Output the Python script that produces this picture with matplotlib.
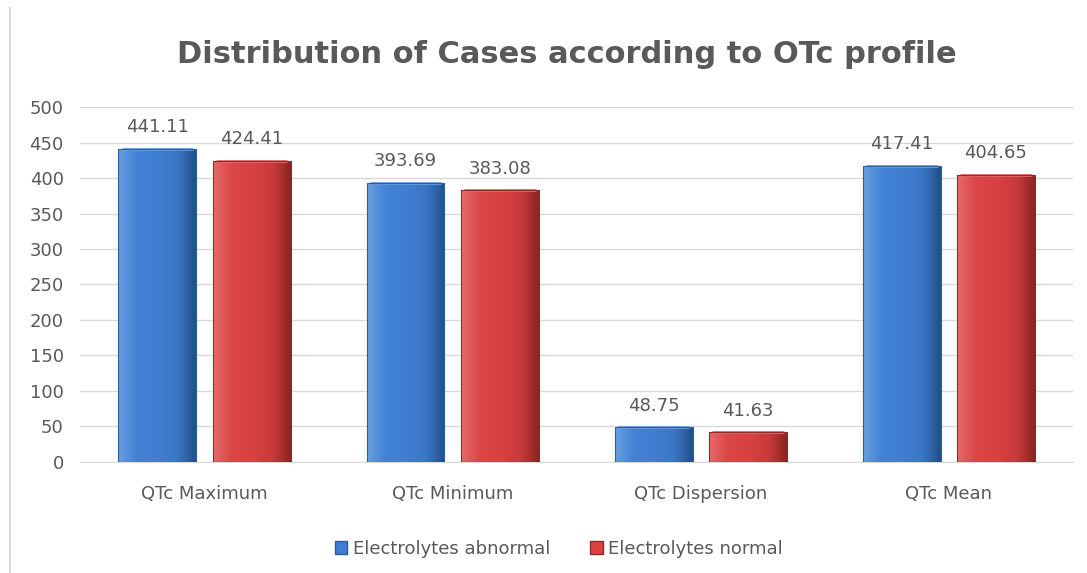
#!/usr/bin/env python3

import matplotlib.pyplot as plt
import numpy as np
from matplotlib.colors import LinearSegmentedColormap
from matplotlib.lines import Line2D

categories = ["QTc Maximum", "QTc Minimum", "QTc Dispersion", "QTc Mean"]
abnormal = [441.11, 393.69, 48.75, 417.41]
normal = [424.41, 383.08, 41.63, 404.65]
series_names = ["Electrolytes abnormal", "Electrolytes normal"]

BLUE = "#3F7ED0"
RED = "#D94242"
TEXT = "#595959"

# bevel-ish horizontal shading: light left edge, flat middle, dark right edge
SHADES = {
    BLUE: ["#6A9FE0", "#4283D6", "#3F7ED0", "#3A76C4", "#244F8A"],
    RED: ["#E66A6A", "#DB4747", "#D94242", "#C93B3B", "#8C2424"],
}


def shade_bars(ax, bars, color):
    cmap = LinearSegmentedColormap.from_list("s", SHADES[color])
    grad = np.concatenate([np.linspace(0, 0.08, 8), np.linspace(0.1, 0.9, 80),
                           np.linspace(0.92, 1, 8)])[None, :]
    for bar in bars:
        x0, y0 = bar.get_x(), bar.get_y()
        w, h = bar.get_width(), bar.get_height()
        im = ax.imshow(grad, cmap=cmap, aspect="auto", extent=(x0, x0 + w, y0, y0 + h),
                       zorder=3, interpolation="bilinear")
        im.set_clip_path(bar)
        bar.set_facecolor("none")
        # lighter top lip
        ax.plot([x0 + w * 0.04, x0 + w * 0.96], [y0 + h, y0 + h], color=SHADES[color][0],
                linewidth=2, zorder=4, solid_capstyle="butt")


def main():
    fig = plt.figure(figsize=(10.87, 5.73), dpi=100)
    fig.add_artist(Line2D([0.0095, 0.0095], [0.0, 0.986], transform=fig.transFigure,
                          color="#d9d9d9", linewidth=1.5))
    ax = fig.add_axes([0.074, 0.194, 0.913, 0.619])

    x = np.arange(len(categories))
    width = 0.314
    off = 0.19
    b1 = ax.bar(x - off, abnormal, width, color=BLUE, edgecolor="#2C5E9E", linewidth=0.8,
                zorder=5, label=series_names[0])
    b2 = ax.bar(x + off, normal, width, color=RED, edgecolor="#8E2A2A", linewidth=0.8,
                zorder=5, label=series_names[1])
    for bars in (b1, b2):
        ax.bar_label(bars, labels=[f"{v:.2f}" for v in bars.datavalues], padding=9,
                     fontsize=13, color=TEXT)
    shade_bars(ax, b1, BLUE)
    shade_bars(ax, b2, RED)

    ax.set_xlim(-0.5, 3.5)
    ax.set_ylim(0, 500)
    ax.set_yticks(range(0, 501, 50))
    ax.set_xticks(x)
    ax.set_xticklabels(categories)
    ax.tick_params(length=0, labelsize=13, labelcolor=TEXT)
    ax.tick_params(axis="x", pad=17)
    ax.tick_params(axis="y", pad=12)
    ax.grid(axis="y", color="#d9d9d9", linewidth=1, zorder=0)
    for s in ("top", "right", "left"):
        ax.spines[s].set_visible(False)
    ax.spines["bottom"].set_color("#d9d9d9")

    fig.text(0.521, 0.905, "Distribution of Cases according to OTc profile",
             ha="center", va="center", fontsize=22, fontweight="bold", color=TEXT,
             family=["Liberation Sans Narrow", "DejaVu Sans"])

    handles = [plt.Rectangle((0, 0), 1, 1, facecolor=BLUE, edgecolor="#2C5E9E"),
               plt.Rectangle((0, 0), 1, 1, facecolor=RED, edgecolor="#8E2A2A")]
    leg = ax.legend(handles, series_names, loc="center", bbox_to_anchor=(0.482, -0.245),
                    ncol=2, frameon=False, fontsize=13, handlelength=0.7, handleheight=0.7,
                    handletextpad=0.3, columnspacing=2.2)
    for t in leg.get_texts():
        t.set_color(TEXT)

    fig.savefig("out.png", dpi=100)


if __name__ == "__main__":
    main()
